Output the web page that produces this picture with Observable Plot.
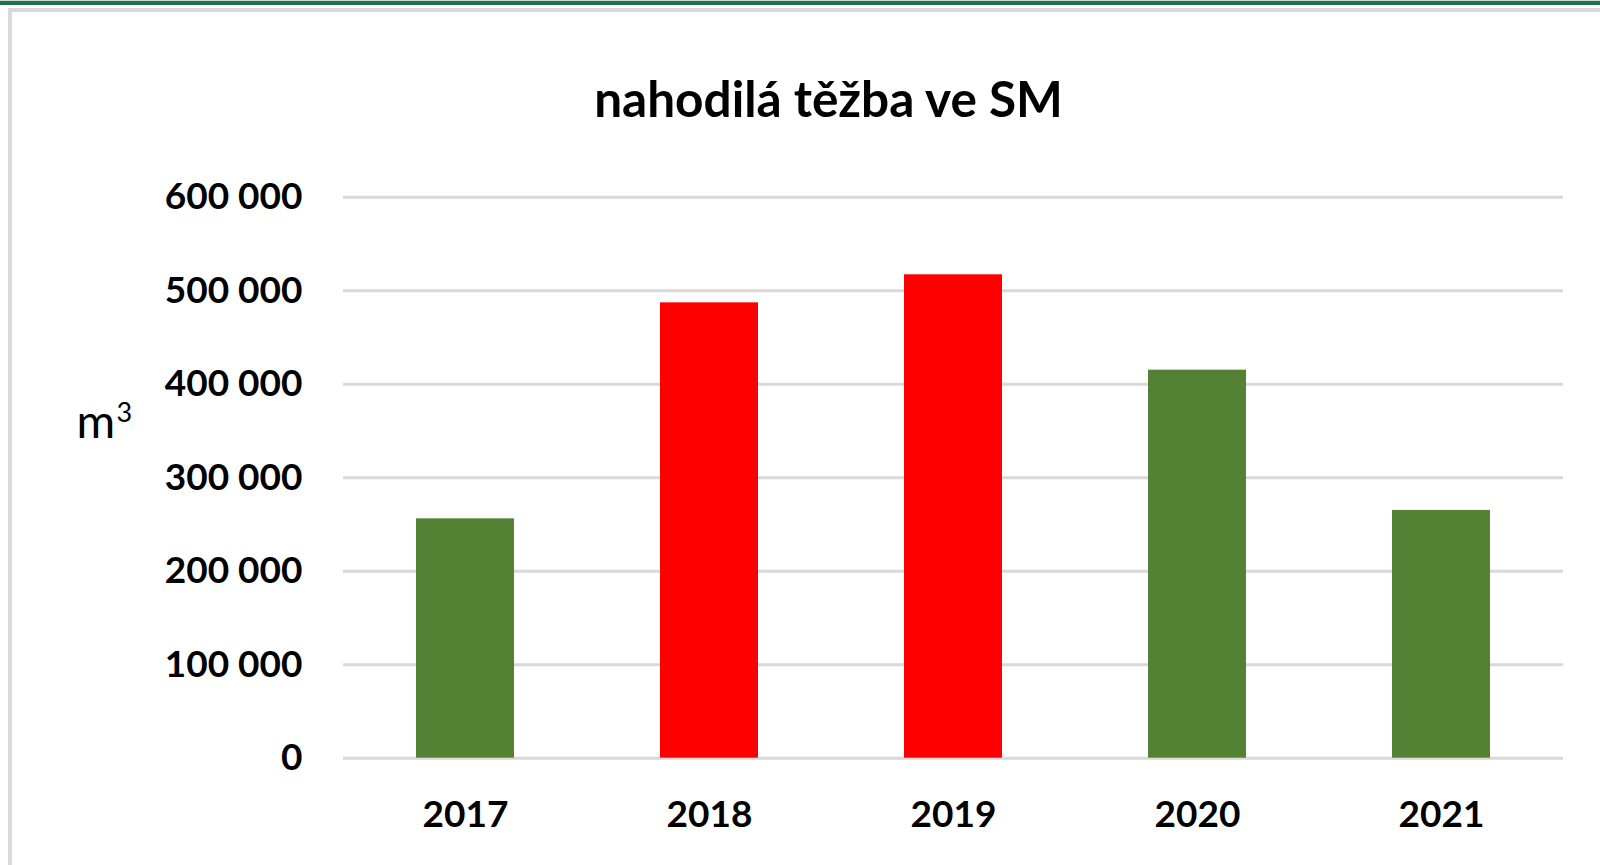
<!DOCTYPE html>
<html>
<head>
<meta charset="utf-8">
<script src="https://cdn.jsdelivr.net/npm/d3@7"></script>
<script src="https://cdn.jsdelivr.net/npm/@observablehq/plot@0.6"></script>
<style>
  html, body { margin: 0; padding: 0; background: #fff; width: 1600px; height: 865px; overflow: hidden; }
  #chart { position: absolute; left: 0; top: 0; }
  .band { position: absolute; }
</style>
</head>
<body>
<div class="band" style="left:0;top:0;width:1600px;height:1px;background:#cfd8d3"></div>
<div class="band" style="left:0;top:1px;width:1600px;height:4px;background:#22704a"></div>
<div class="band" style="left:8px;top:8px;width:1592px;height:4px;background:#d9d9d9"></div>
<div class="band" style="left:8px;top:8px;width:4px;height:857px;background:#d9d9d9"></div>
<div id="chart"></div>
<script>
// ---- data ----
const title = "nahodilá těžba ve SM";
const unitBase = "m";
const unitExponent = "3";
const years = ["2017", "2018", "2019", "2020", "2021"];
const volumes = [256000, 487000, 517000, 415000, 265000];
const highlightYears = ["2018", "2019"];
const yTicks = [0, 100000, 200000, 300000, 400000, 500000, 600000];

// ---- styles ----
const GREEN = "#548235";
const RED = "#ff0000";
const GRID = "#d9d9d9";
const FONT = "Lato, 'Open Sans', sans-serif";

const rows = years.map((y, i) => ({year: y, value: volumes[i]}));
const fmt = d3.formatLocale({decimal: ",", thousands: " ", grouping: [3], currency: ["", " Kč"]}).format(",d");

const chart = Plot.plot({
  width: 1600,
  height: 865,
  marginLeft: 343,
  marginRight: 37,
  marginTop: 196.7,
  marginBottom: 107.3,
  style: {fontFamily: FONT, background: "transparent", color: "#000"},
  x: {domain: years, paddingInner: 0.6, paddingOuter: 0.3, label: null},
  y: {domain: [0, 600000], label: null},
  marks: [
    Plot.ruleY(yTicks, {stroke: GRID, strokeWidth: 3}),
    Plot.barY(rows, {
      x: "year",
      y: "value",
      fill: d => highlightYears.includes(d.year) ? RED : GREEN
    }),
    Plot.axisX({tickSize: 0, tickPadding: 43, fontSize: 37, fontWeight: 700, label: null}),
    Plot.axisY({ticks: yTicks, tickSize: 0, tickPadding: 41, tickFormat: fmt, fontSize: 37, fontWeight: 700, label: null}),
    Plot.text([title], {
      frameAnchor: "top", dx: -125, dy: -80, lineAnchor: "bottom",
      fontSize: 49.5, fontWeight: 700, fill: "#000"
    }),
    Plot.text([unitBase], {
      frameAnchor: "top-left", dx: 76 - 343, dy: 437 - 196.7, textAnchor: "start", lineAnchor: "bottom",
      fontSize: 47, fill: "#000"
    }),
    Plot.text([unitExponent], {
      frameAnchor: "top-left", dx: 116 - 343, dy: 421 - 196.7, textAnchor: "start", lineAnchor: "bottom",
      fontSize: 27, fill: "#000"
    })
  ]
});
document.getElementById("chart").appendChild(chart);
</script>
</body>
</html>
